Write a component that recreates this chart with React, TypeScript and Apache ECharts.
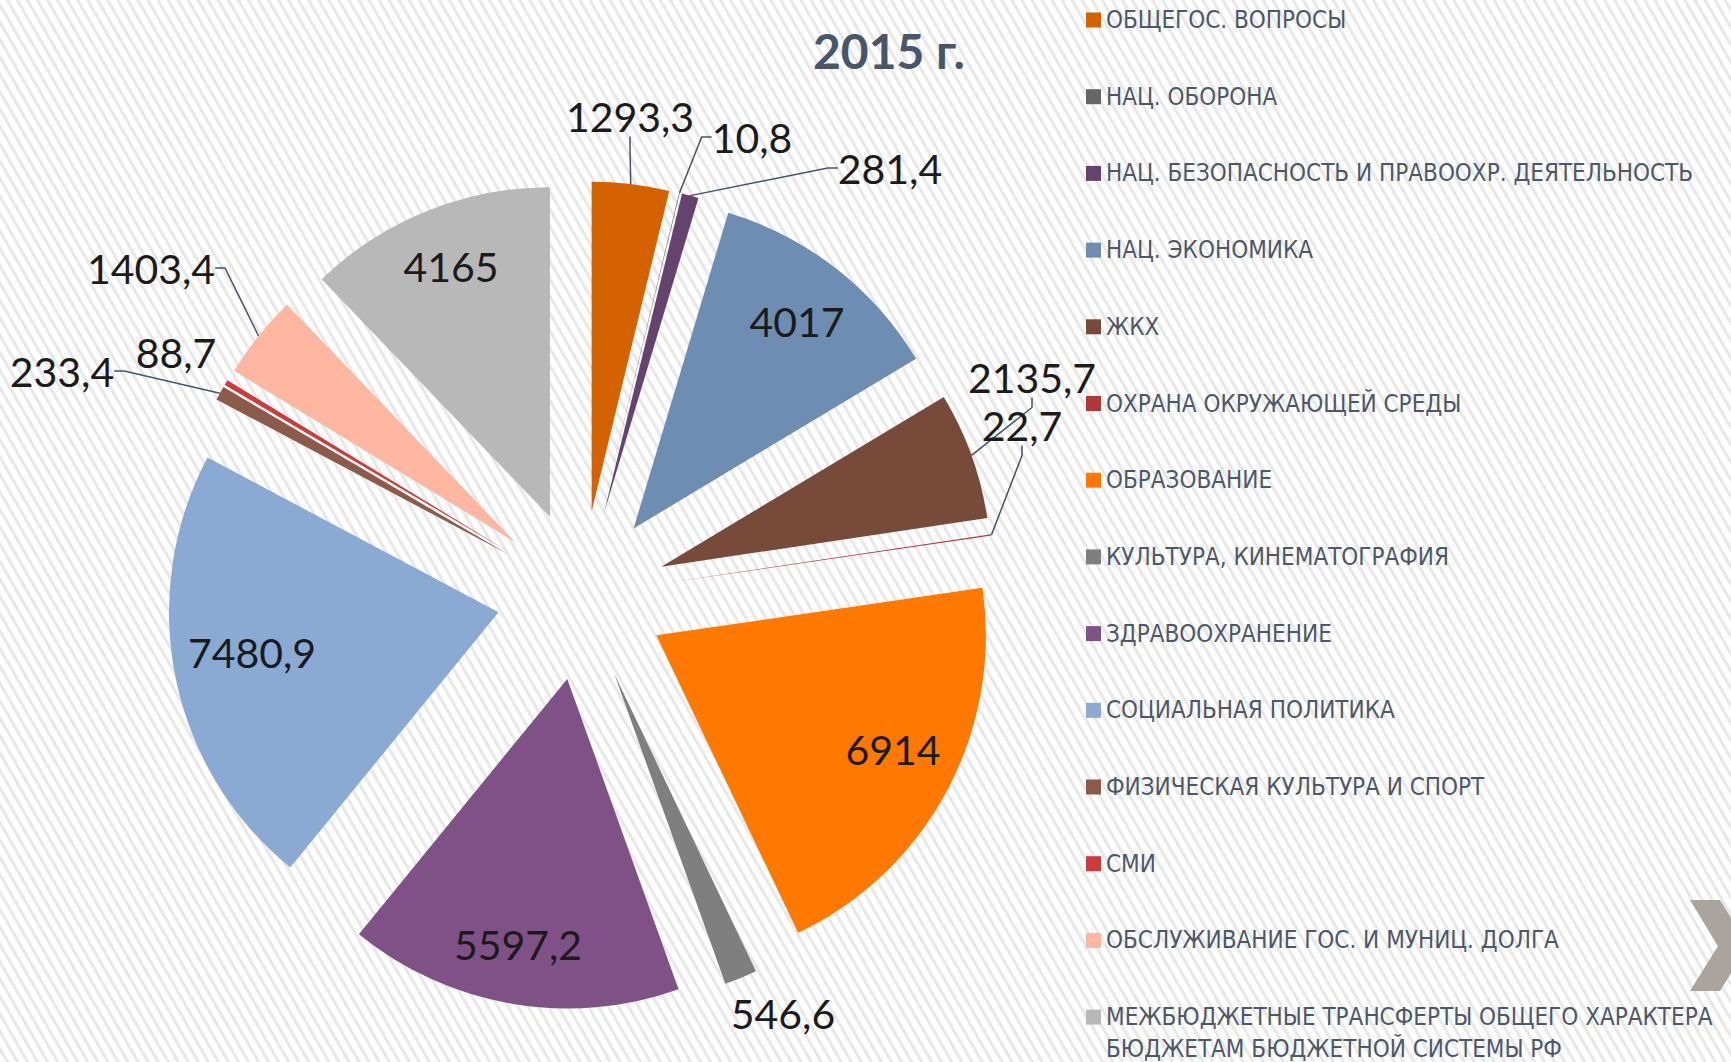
import React, { useEffect, useRef } from "react";
import * as echarts from "echarts";

// ---- data ----
const categories: string[] = [
  "ОБЩЕГОС. ВОПРОСЫ",
  "НАЦ. ОБОРОНА",
  "НАЦ. БЕЗОПАСНОСТЬ И ПРАВООХР. ДЕЯТЕЛЬНОСТЬ",
  "НАЦ. ЭКОНОМИКА",
  "ЖКХ",
  "ОХРАНА ОКРУЖАЮЩЕЙ СРЕДЫ",
  "ОБРАЗОВАНИЕ",
  "КУЛЬТУРА, КИНЕМАТОГРАФИЯ",
  "ЗДРАВООХРАНЕНИЕ",
  "СОЦИАЛЬНАЯ ПОЛИТИКА",
  "ФИЗИЧЕСКАЯ КУЛЬТУРА И СПОРТ",
  "СМИ",
  "ОБСЛУЖИВАНИЕ ГОС. И МУНИЦ. ДОЛГА",
  "МЕЖБЮДЖЕТНЫЕ ТРАНСФЕРТЫ ОБЩЕГО ХАРАКТЕРА БЮДЖЕТАМ БЮДЖЕТНОЙ СИСТЕМЫ РФ",
];

const values2015: number[] = [
  1293.3, 10.8, 281.4, 4017, 2135.7, 22.7, 6914, 546.6, 5597.2, 7480.9, 233.4, 88.7, 1403.4, 4165,
];

const titleText = "2015 г.";

// legend wrap point for the long last category
const WRAP_AFTER = "ХАРАКТЕРА ";

// ---- styles ----
const colors: string[] = [
  "#D46200",
  "#666666",
  "#65436F",
  "#6E8DB2",
  "#774A3A",
  "#B03838",
  "#FF7800",
  "#7F7F7F",
  "#805186",
  "#8AAAD3",
  "#8C5A48",
  "#CC3C3C",
  "#FDB7A0",
  "#B8B8B8",
];

const insideLabel = [false, false, false, true, false, false, true, false, true, true, false, false, false, true];
const showLeader = [true, true, true, false, true, true, false, false, false, false, true, false, true, false];

// label centre positions (layout style, px)
const labelPos: [number, number][] = [
  [630, 116],
  [752, 137],
  [890, 168],
  [797, 321],
  [1032, 377],
  [1022, 425],
  [893, 749],
  [783, 1013],
  [518, 944],
  [252, 652],
  [62, 371],
  [176, 352],
  [151, 268],
  [451, 266],
];

const PIE_CENTER: [number, number] = [581.6, 595.4];
const PIE_RADIUS = 329.6;
const EXPLODE = 84.7;

const LABEL_FONT = "Lato, 'Open Sans', sans-serif";
const LEGEND_FONT = "'DejaVu Sans Condensed', 'Liberation Sans Narrow', Roboto, sans-serif";
const LEGEND_COLOR = "#4B5869";

export default function App() {
  const ref = useRef<HTMLDivElement>(null);

  useEffect(() => {
    document.body.style.margin = "0";
    const el = ref.current;
    if (!el) return;
    const chart = echarts.init(el, null, { renderer: "svg" });
    const fmt = (v: number) => String(v).replace(".", ",");

    const splitName = (name: string): [string, string] => {
      const k = name.indexOf(WRAP_AFTER);
      if (k < 0) return [name, ""];
      return [name.slice(0, k + WRAP_AFTER.length - 1), name.slice(k + WRAP_AFTER.length)];
    };
    const lastName = categories[categories.length - 1];
    const continuation = splitName(lastName)[1];

    // visible exploded slices
    const sliceData = categories.map((name, i) => ({
      name,
      value: values2015[i],
      selected: true,
      itemStyle: { color: colors[i] },
    }));

    // same data, unexploded & transparent, carrying the value labels and leaders
    const labelData = categories.map((name, i) => ({
      name,
      value: values2015[i],
      label: { position: insideLabel[i] ? "inside" : "outside" },
      labelLine: { show: showLeader[i] },
    }));

    chart.setOption({
      animation: false,
      backgroundColor: "transparent",
      title: {
        text: titleText,
        left: 813,
        top: 26,
        padding: 0,
        textStyle: { fontFamily: LABEL_FONT, fontWeight: "bold", fontSize: 48, color: "#47566B" },
      },
      legend: {
        orient: "vertical",
        left: 1086,
        top: 4,
        height: 1200,
        padding: 0,
        itemWidth: 15,
        itemHeight: 15,
        itemGap: 44.7,
        icon: "rect",
        selectedMode: false,
        data: categories,
        formatter: (name: string) => splitName(name)[0],
        textStyle: { fontFamily: LEGEND_FONT, fontSize: 24, lineHeight: 32, color: LEGEND_COLOR },
      },
      graphic: [
        {
          type: "text",
          silent: true,
          x: 1106,
          y: 1049,
          style: {
            text: continuation,
            fontFamily: LEGEND_FONT,
            fontSize: 24,
            fill: LEGEND_COLOR,
            textAlign: "left",
            textVerticalAlign: "middle",
          },
        },
        {
          type: "polygon",
          silent: true,
          shape: {
            points: [
              [1690, 900],
              [1720, 900],
              [1748, 946],
              [1720, 991],
              [1690, 991],
              [1718, 946],
            ],
          },
          style: { fill: "#ABA39E" },
        },
      ],
      series: [
        {
          type: "pie",
          name: "slices",
          center: PIE_CENTER,
          radius: [0, PIE_RADIUS],
          startAngle: 90,
          clockwise: true,
          selectedMode: "multiple",
          selectedOffset: EXPLODE,
          silent: true,
          emphasis: { disabled: true },
          label: { show: false },
          labelLine: { show: false },
          data: sliceData,
        },
        {
          type: "pie",
          name: "labels",
          center: PIE_CENTER,
          radius: [0, PIE_RADIUS + EXPLODE],
          startAngle: 90,
          clockwise: true,
          selectedMode: false,
          silent: true,
          avoidLabelOverlap: false,
          emphasis: { disabled: true },
          itemStyle: { color: "rgba(0,0,0,0)" },
          data: labelData,
          label: {
            show: true,
            formatter: (p: any) => fmt(p.value),
            fontFamily: LABEL_FONT,
            fontSize: 41,
            color: "#1B1B1B",
          },
          labelLine: {
            length: 12,
            length2: 10,
            lineStyle: { color: "#44546A", width: 1.5 },
          },
          labelLayout: (p: any) => {
            const pos = labelPos[p.dataIndex];
            return { x: pos[0], y: pos[1], align: "center", verticalAlign: "middle" };
          },
        },
      ],
    });

    return () => chart.dispose();
  }, []);

  return (
    <div
      ref={ref}
      style={{
        width: 1731,
        height: 1062,
        background:
          "repeating-linear-gradient(60deg, #ffffff 0px, #ffffff 4.5px, #e8e8e8 5.5px, #e8e8e8 7.5px, #ffffff 8.7px)",
      }}
    />
  );
}
